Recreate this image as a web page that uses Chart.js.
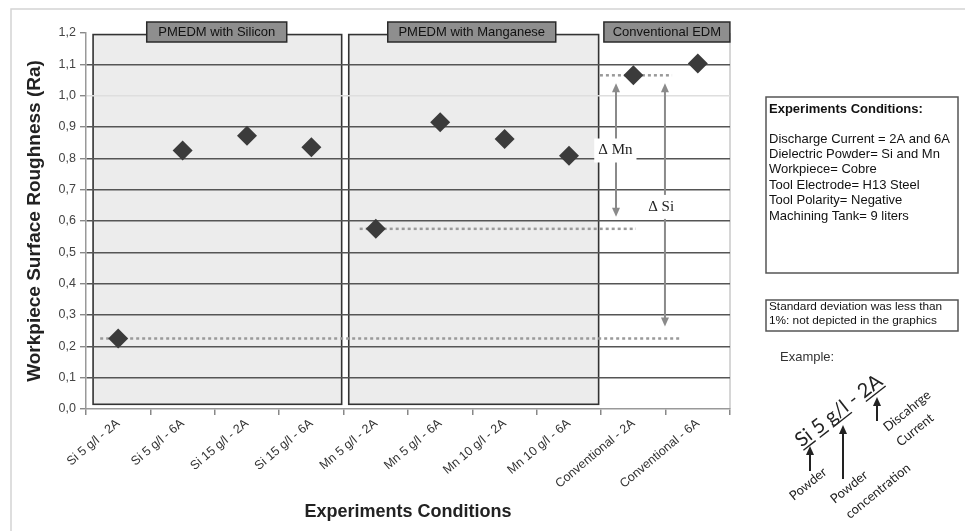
<!DOCTYPE html>
<html>
<head>
<meta charset="utf-8">
<script src="https://cdn.jsdelivr.net/npm/chart.js@4.4.0/dist/chart.umd.min.js"></script>
<style>
html, body { margin: 0; padding: 0; background: #fff; }
#wrap { width: 965px; height: 531px; position: relative; }
</style>
</head>
<body>
<div id="wrap"><canvas id="myChart" width="965" height="531"></canvas></div>
<script>
// categories and measured roughness (Ra)
const categories = [
    'Si 5 g/l - 2A', 'Si 5 g/l - 6A', 'Si 15 g/l - 2A', 'Si 15 g/l - 6A',
    'Mn 5 g/l - 2A', 'Mn 5 g/l - 6A', 'Mn 10 g/l - 2A', 'Mn 10 g/l - 6A',
    'Conventional - 2A', 'Conventional - 6A'
];
const roughness = [0.225, 0.825, 0.872, 0.835, 0.575, 0.915, 0.862, 0.808, 1.065, 1.103];
const yTickLabels = ['0,0', '0,1', '0,2', '0,3', '0,4', '0,5', '0,6', '0,7', '0,8', '0,9', '1,0', '1,1', '1,2'];
const groupNames = ['PMEDM with Silicon', 'PMEDM with Manganese', 'Conventional EDM'];
const conditionLines = [
    'Discharge Current = 2A and 6A',
    'Dielectric Powder= Si and Mn',
    'Workpiece= Cobre',
    'Tool Electrode= H13 Steel',
    'Tool Polarity= Negative',
    'Machining Tank= 9 liters'
];
const noteLines = ['Standard deviation was less than', '1%: not depicted in the graphics'];

const FONT = '"Liberation Sans", Arial, sans-serif';

function arrow(ctx, x, y1, y2) {
    // vertical double-ended arrow
    ctx.beginPath();
    ctx.moveTo(x, y1 + 6); ctx.lineTo(x, y2 - 6);
    ctx.stroke();
    [[y1, 1], [y2, -1]].forEach(([yy, d]) => {
        ctx.beginPath();
        ctx.moveTo(x, yy);
        ctx.lineTo(x - 4, yy + d * 9);
        ctx.lineTo(x + 4, yy + d * 9);
        ctx.closePath();
        ctx.fill();
    });
}

function upArrow(ctx, x, yTop, yBot) {
    ctx.beginPath();
    ctx.moveTo(x, yBot); ctx.lineTo(x, yTop + 6);
    ctx.stroke();
    ctx.beginPath();
    ctx.moveTo(x, yTop);
    ctx.lineTo(x - 4, yTop + 9);
    ctx.lineTo(x + 4, yTop + 9);
    ctx.closePath();
    ctx.fill();
}

const panelPlugin = {
    id: 'panels',
    beforeDraw(chart, args, opts) {
        const { ctx, chartArea: a, scales: { x, y } } = chart;
        ctx.save();
        // outer frame
        ctx.strokeStyle = '#d4d4d4';
        ctx.lineWidth = 1.5;
        ctx.beginPath();
        ctx.moveTo(11, 531); ctx.lineTo(11, 9); ctx.lineTo(965, 9);
        ctx.stroke();
        // right edge of plot
        ctx.strokeStyle = '#c8c8c8';
        ctx.lineWidth = 1.5;
        ctx.beginPath();
        ctx.moveTo(a.right, y.getPixelForValue(1.2)); ctx.lineTo(a.right, a.bottom);
        ctx.stroke();
        // shaded group boxes
        opts.boxes.forEach(b => {
            const x1 = x.getPixelForValue(b.from), x2 = x.getPixelForValue(b.to);
            const y1 = y.getPixelForValue(b.top), y2 = y.getPixelForValue(b.bottom);
            ctx.fillStyle = '#ececec';
            ctx.fillRect(x1, y1, x2 - x1, y2 - y1);
            ctx.strokeStyle = '#333';
            ctx.lineWidth = 1.6;
            ctx.strokeRect(x1, y1, x2 - x1, y2 - y1);
        });
        ctx.restore();
    },
    beforeDatasetsDraw(chart, args, opts) {
        const { ctx, scales: { x, y } } = chart;
        ctx.save();
        // dotted reference levels
        ctx.strokeStyle = '#9a9a9a';
        ctx.lineWidth = 2.5;
        ctx.setLineDash([3, 3]);
        opts.levels.forEach(l => {
            const yy = y.getPixelForValue(roughness[l.point]);
            ctx.beginPath();
            ctx.moveTo(x.getPixelForValue(l.from), yy);
            ctx.lineTo(x.getPixelForValue(l.to), yy);
            ctx.stroke();
        });
        ctx.setLineDash([]);
        // delta arrows
        ctx.strokeStyle = '#8a8a8a';
        ctx.fillStyle = '#8a8a8a';
        ctx.lineWidth = 2;
        opts.deltas.forEach(d => {
            const xx = x.getPixelForValue(d.at);
            arrow(ctx, xx, y.getPixelForValue(roughness[d.high]) + 8, y.getPixelForValue(roughness[d.low]) - 12);
        });
        ctx.font = '15px "Liberation Serif", "Times New Roman", serif';
        ctx.textAlign = 'center';
        ctx.textBaseline = 'middle';
        opts.deltas.forEach(d => {
            const xx = x.getPixelForValue(d.labelAt), yy = y.getPixelForValue(d.labelY);
            const w = ctx.measureText(d.text).width + 8;
            ctx.fillStyle = '#fff';
            ctx.fillRect(xx - w / 2, yy - 12, w, 24);
            ctx.fillStyle = '#222';
            ctx.fillText(d.text, xx, yy);
        });
        ctx.restore();
    },
    afterDraw(chart, args, opts) {
        const { ctx, scales: { x } } = chart;
        ctx.save();
        // group title tags
        ctx.font = '13px ' + FONT;
        ctx.textAlign = 'center';
        ctx.textBaseline = 'middle';
        opts.tags.forEach((t, i) => {
            const cx = x.getPixelForValue(t.at);
            const w = t.width;
            ctx.fillStyle = '#8e8e8e';
            ctx.fillRect(cx - w / 2, 22, w, 20);
            ctx.strokeStyle = '#2a2a2a';
            ctx.lineWidth = 1.5;
            ctx.strokeRect(cx - w / 2, 22, w, 20);
            ctx.fillStyle = '#111';
            ctx.fillText(groupNames[i], cx, 32.5);
        });

        // conditions box
        ctx.strokeStyle = '#555';
        ctx.lineWidth = 1.5;
        ctx.strokeRect(766, 97, 192, 176);
        ctx.strokeRect(766, 300, 192, 31);
        ctx.textAlign = 'left';
        ctx.textBaseline = 'middle';
        ctx.fillStyle = '#111';
        ctx.font = 'bold 13px ' + FONT;
        ctx.fillText('Experiments Conditions:', 769, 109);
        ctx.font = '13px ' + FONT;
        conditionLines.forEach((s, i) => ctx.fillText(s, 769, 139 + i * 15.4));
        ctx.font = '11.8px ' + FONT;
        noteLines.forEach((s, i) => ctx.fillText(s, 769, 307 + i * 14));
        ctx.fillStyle = '#333';
        ctx.font = '13px ' + FONT;
        ctx.fillText('Example:', 780, 357);

        // example label with underlined parts
        ctx.fillStyle = '#222';
        ctx.strokeStyle = '#222';
        ctx.save();
        ctx.translate(839, 411);
        ctx.rotate(-38 * Math.PI / 180);
        ctx.font = '20px Lato, "Open Sans", sans-serif';
        const parts = [['Si', true], [' ', false], ['5', true], [' ', false], ['g/l', true], [' - ', false], ['2A', true]];
        const total = parts.reduce((s, p) => s + ctx.measureText(p[0]).width, 0);
        let px = -total / 2;
        ctx.textBaseline = 'alphabetic';
        ctx.lineWidth = 1.4;
        parts.forEach(([s, u]) => {
            const w = ctx.measureText(s).width;
            ctx.fillText(s, px, 6);
            if (u) {
                ctx.beginPath();
                ctx.moveTo(px, 9); ctx.lineTo(px + w, 9);
                ctx.stroke();
            }
            px += w;
        });
        ctx.restore();

        // pointer arrows
        ctx.lineWidth = 2;
        upArrow(ctx, 810, 446, 471);
        upArrow(ctx, 843, 425, 479);
        upArrow(ctx, 877, 397, 421);

        ctx.font = '13px Lato, "Open Sans", sans-serif';
        ctx.textAlign = 'center';
        [['Powder', 808, 484], ['Powder', 849, 487], ['concentration', 878, 491],
         ['Discahrge', 907, 411], ['Current', 915, 430]].forEach(([s, cx, cy]) => {
            ctx.save();
            ctx.translate(cx, cy);
            ctx.rotate(-39 * Math.PI / 180);
            ctx.fillText(s, 0, 0);
            ctx.restore();
        });
        ctx.restore();
    }
};

const ctx = document.getElementById('myChart').getContext('2d');
new Chart(ctx, {
    type: 'line',
    data: {
        labels: categories,
        datasets: [{
            label: 'Ra',
            data: roughness,
            showLine: false,
            pointStyle: 'rectRot',
            pointRadius: 10,
            pointHoverRadius: 10,
            backgroundColor: '#3b3b3b',
            borderColor: '#3b3b3b',
            borderWidth: 0
        }]
    },
    options: {
        responsive: false,
        animation: false,
        layout: { padding: { left: 0, right: 235, top: 33, bottom: 0 } },
        plugins: {
            legend: { display: false },
            tooltip: { enabled: false },
            panels: {
                boxes: [
                    { from: -0.39, to: 3.47, top: 1.195, bottom: 0.015 },
                    { from: 3.58, to: 7.46, top: 1.195, bottom: 0.015 }
                ],
                tags: [
                    { at: 1.53, width: 140 },
                    { at: 5.49, width: 168 },
                    { at: 8.52, width: 126 }
                ],
                levels: [
                    { point: 0, from: -0.28, to: 8.72 },
                    { point: 4, from: 3.75, to: 8.04 },
                    { point: 8, from: 7.48, to: 8.6 }
                ],
                deltas: [
                    { text: '\u0394 Mn', high: 8, low: 4, at: 7.73, labelAt: 7.72, labelY: 0.825 },
                    { text: '\u0394 Si', high: 8, low: 0, at: 8.49, labelAt: 8.43, labelY: 0.645 }
                ]
            }
        },
        scales: {
            x: {
                offset: true,
                afterFit: s => { s.height = 122; },
                grid: { offset: true, drawOnChartArea: false, tickLength: 6, color: '#888', lineWidth: 1.5 },
                border: { color: '#999', width: 1.5 },
                ticks: {
                    minRotation: 40, maxRotation: 40, padding: 1,
                    color: '#333',
                    font: { family: FONT, size: 12.5 }
                },
                title: {
                    display: true,
                    text: 'Experiments Conditions',
                    color: '#222',
                    font: { family: FONT, size: 18, weight: 'bold' },
                    padding: { top: 0, bottom: 8 }
                }
            },
            y: {
                min: 0, max: 1.2,
                afterFit: s => { s.width = 86; },
                ticks: {
                    stepSize: 0.1,
                    padding: 4,
                    color: '#444',
                    font: { family: FONT, size: 12.5 },
                    callback: (v, i) => yTickLabels[i]
                },
                grid: {
                    tickLength: 6,
                    tickColor: '#888',
                    lineWidth: 1.4,
                    color: c => {
                        const v = c.tick.value;
                        if (Math.abs(v - 1.2) < 1e-6) return 'rgba(0,0,0,0)';
                        if (Math.abs(v - 1.0) < 1e-6) return '#dedede';
                        if (Math.abs(v) < 1e-6) return 'rgba(0,0,0,0)';
                        return '#555';
                    }
                },
                border: { color: '#999', width: 1.5 },
                title: {
                    display: true,
                    text: 'Workpiece Surface Roughness (Ra)',
                    color: '#222',
                    font: { family: FONT, size: 19, weight: 'bold' },
                    padding: { top: 23, bottom: 0 }
                }
            }
        }
    },
    plugins: [panelPlugin]
});
</script>
</body>
</html>
